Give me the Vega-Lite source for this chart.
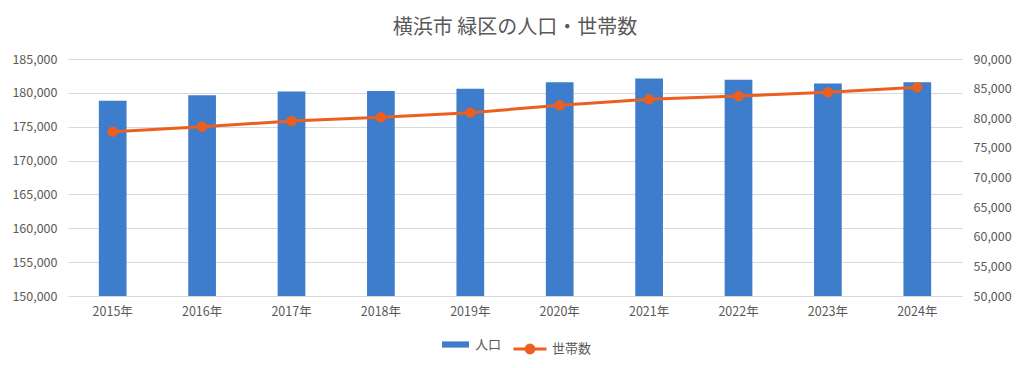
{
  "$schema": "https://vega.github.io/schema/vega-lite/v6.json",
  "width": 894,
  "height": 237,
  "autosize": "none",
  "padding": {"left": 68, "top": 59, "right": 62, "bottom": 72},
  "background": "white",
  "config": {
    "font": "Noto Sans CJK JP",
    "view": {"stroke": null},
    "axis": {"labelColor": "#595959", "labelFontSize": 12.5, "ticks": false, "title": null, "labelFont": "Noto Sans CJK JP", "labelOverlap": false},
    "legend": {"labelColor": "#595959", "labelFontSize": 13, "labelFont": "Noto Sans CJK JP"}
  },
  "title": {"text": "横浜市 緑区の人口・世帯数", "fontSize": 20, "color": "#595959", "font": "Noto Sans CJK JP", "fontWeight": "normal", "anchor": "middle", "offset": 15},
  "data": {"values": [
    {"year": "2015年", "pop": 178820, "hh": 77730},
    {"year": "2016年", "pop": 179650, "hh": 78570},
    {"year": "2017年", "pop": 180190, "hh": 79540},
    {"year": "2018年", "pop": 180290, "hh": 80160},
    {"year": "2019年", "pop": 180590, "hh": 80940},
    {"year": "2020年", "pop": 181560, "hh": 82190},
    {"year": "2021年", "pop": 182110, "hh": 83200},
    {"year": "2022年", "pop": 181920, "hh": 83750},
    {"year": "2023年", "pop": 181370, "hh": 84380},
    {"year": "2024年", "pop": 181560, "hh": 85220}
  ]},
  "encoding": {
    "x": {"field": "year", "type": "ordinal", "sort": null,
      "scale": {"paddingInner": 0.69, "paddingOuter": 0.345},
      "axis": {"labelAngle": 0, "labelPadding": 9, "domainColor": "#D9D9D9", "grid": false}}
  },
  "layer": [
    {
      "mark": {"type": "bar", "clip": true},
      "encoding": {
        "y": {"field": "pop", "type": "quantitative",
          "scale": {"domain": [150000, 185000], "zero": false, "nice": false},
          "axis": {"values": [150000, 155000, 160000, 165000, 170000, 175000, 180000, 185000], "format": ",d", "gridColor": "#D9D9D9", "domain": false, "labelPadding": 11}},
        "color": {"datum": "人口", "scale": {"range": ["#3E7DCB"]},
          "legend": {"orient": "none", "legendX": 374, "legendY": 272, "title": null,
            "symbolType": "M-1,-0.23H1V0.23H-1Z", "symbolSize": 729, "symbolStrokeWidth": 0, "labelOffset": 6}}
      }
    },
    {
      "mark": {"type": "line", "strokeWidth": 3, "point": {"filled": true, "size": 70, "color": "#EC5F1F", "opacity": 1}},
      "encoding": {
        "y": {"field": "hh", "type": "quantitative",
          "scale": {"domain": [50000, 90000], "zero": false, "nice": false},
          "axis": {"orient": "right", "values": [50000, 55000, 60000, 65000, 70000, 75000, 80000, 85000, 90000], "format": ",d", "grid": false, "domain": false, "labelPadding": 11, "labelOverlap": false}},
        "stroke": {"datum": "世帯数", "scale": {"range": ["#EC5F1F"]},
          "legend": {"orient": "none", "legendX": 444, "legendY": 272, "title": null,
            "symbolType": "M-1,0H1M-0.24,0A0.24,0.24 0 1,0 0.24,0A0.24,0.24 0 1,0 -0.24,0Z", "symbolSize": 1089, "symbolStrokeWidth": 3, "symbolFillColor": "#EC5F1F", "symbolStrokeColor": "#EC5F1F", "labelOffset": 4}}
      }
    }
  ],
  "resolve": {"scale": {"y": "independent"}}
}
